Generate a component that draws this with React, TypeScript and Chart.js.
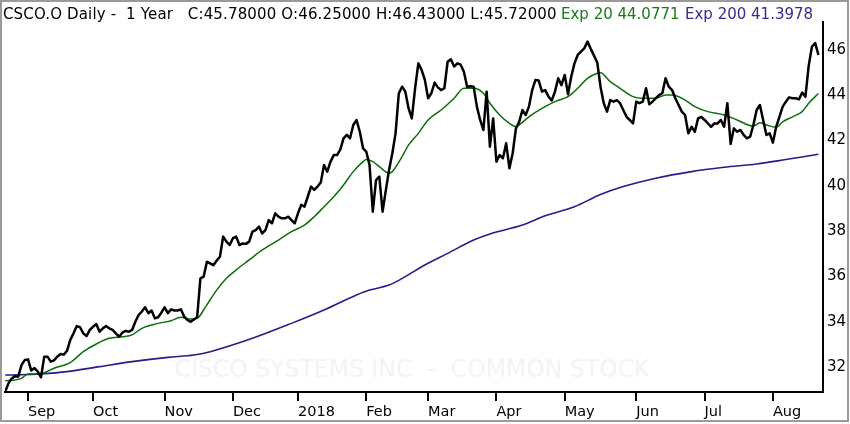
import React, { useEffect, useRef } from "react";
import { Chart, registerables } from "chart.js";

Chart.register(...registerables);

// ---- data (x = trading-day index, day 0 = 23 Aug 2017) ----
const monthDays = [7, 27, 49, 70, 90, 111, 130, 151, 172, 194, 215, 236];
const monthLabels = ["Sep", "Oct", "Nov", "Dec", "2018", "Feb", "Mar", "Apr", "May", "Jun", "Jul", "Aug"];
const yTicks = [32, 34, 36, 38, 40, 42, 44, 46];

const close = [
  30.92, 31.28, 31.5, 31.6, 31.58, 32.09, 32.31, 32.34, 31.85, 31.96,
  31.8, 31.55, 32.46, 32.46, 32.24, 32.3, 32.46, 32.58, 32.55, 32.72,
  33.2, 33.49, 33.81, 33.76, 33.49, 33.37, 33.64, 33.78, 33.9, 33.56,
  33.71, 33.81, 33.71, 33.64, 33.49, 33.34, 33.52, 33.6, 33.56, 33.64,
  34.0, 34.3, 34.45, 34.64, 34.38, 34.5, 34.15, 34.2, 34.4, 34.64,
  34.38, 34.55, 34.5, 34.5, 34.55, 34.23, 34.08, 34.0, 34.1, 34.2,
  35.92, 35.99, 36.65, 36.58, 36.5, 36.7, 36.87, 37.76, 37.54, 37.39,
  37.69, 37.76, 37.39, 37.46, 37.44, 37.54, 37.98, 38.05, 38.2, 37.9,
  38.05, 38.49, 38.35, 38.79, 38.64, 38.57, 38.57, 38.64, 38.49, 38.35,
  38.79, 39.16, 39.08, 39.52, 39.97, 39.82, 39.97, 40.15, 40.92, 40.63,
  41.07, 41.36, 41.36, 41.6, 42.1, 42.25, 42.1, 42.69, 42.91, 42.39,
  41.66, 41.51, 40.92, 38.86, 40.26, 40.41, 38.86, 39.8, 40.7, 41.44,
  42.32, 44.09, 44.38, 44.16, 43.42, 42.98, 44.31, 45.41, 45.12, 44.68,
  43.87, 44.09, 44.56, 44.35, 44.23, 44.31, 45.48, 45.59, 45.27, 45.41,
  45.35, 45.04, 44.38, 44.4, 44.38, 43.5, 42.91, 42.47, 44.16, 41.73,
  42.98, 41.07, 41.36, 41.22, 41.88, 40.78, 41.44, 42.54, 42.83, 43.35,
  43.13, 43.5, 44.23, 44.68, 44.65, 44.16, 44.23, 43.94, 43.77, 44.16,
  44.75, 44.45, 44.9, 44.05, 44.82, 45.41, 45.78, 45.93, 46.07, 46.37,
  46.05, 45.75, 45.45, 44.38, 43.65, 43.28, 43.79, 43.72, 43.79, 43.65,
  43.35, 43.05, 42.91, 42.76, 43.72, 43.65, 43.72, 44.31, 43.6, 43.72,
  43.87, 44.01, 44.09, 44.75, 44.38, 44.23, 43.87, 43.57, 43.28, 43.13,
  42.32, 42.61, 42.39, 42.98, 43.05, 42.91, 42.76, 42.61, 42.76, 42.76,
  42.91, 42.61, 43.65, 41.85, 42.54, 42.39, 42.47, 42.25, 42.1, 42.17,
  42.69, 43.35, 43.57, 42.91, 42.25, 42.32, 41.91, 42.61, 43.05, 43.5,
  43.72, 43.91, 43.87, 43.87, 43.82, 44.12, 43.94, 45.3, 46.15, 46.3,
  45.78,
];

const ema20Days = [
  0, 3, 5, 7, 9, 12, 15, 20, 24, 28, 32, 36, 39, 42, 47, 51, 54, 57, 59, 61,
  62, 65, 68, 71, 75, 79, 84, 88, 92, 95, 98, 101, 104, 107, 110, 111, 113, 115, 118, 119,
  122, 124, 127, 130, 134, 138, 141, 144, 147, 149, 152, 155, 157, 158, 161, 165, 169, 173, 176, 179,
  182, 183, 186, 189, 193, 196, 200, 203, 205, 209, 212, 216, 221, 225, 230, 232, 234, 237, 239, 242,
  245, 247, 250,
];
const ema20Values = [
  31.4, 31.43, 31.5, 31.7, 31.7, 31.75, 31.95, 32.2, 32.68, 33.02, 33.27, 33.34, 33.42, 33.71, 33.93, 34.05, 34.2, 34.12, 34.15, 34.52,
  34.75, 35.4, 35.92, 36.29, 36.73, 37.17, 37.61, 37.98, 38.27, 38.64, 39.08, 39.52, 40.04, 40.63, 41.07, 41.17, 41.07, 40.85, 40.56, 40.63,
  41.29, 41.81, 42.32, 42.91, 43.35, 43.87, 44.31, 44.31, 44.09, 43.65, 43.13, 42.76, 42.61, 42.69, 43.05, 43.42, 43.72, 43.94, 44.31, 44.75,
  44.97, 45.0, 44.6, 44.31, 43.94, 43.87, 43.87, 44.01, 44.01, 43.79, 43.5, 43.28, 43.13, 42.91, 42.64, 42.79, 42.69, 42.59, 42.83, 43.05,
  43.28, 43.65, 44.08,
];

const ema200Days = [
  0, 5, 11, 19, 29, 39, 50, 58, 63, 76, 88, 98, 108, 112, 118, 121, 129, 136, 144, 149,
  159, 166, 175, 183, 190, 200, 211, 221, 231, 239, 250,
];
const ema200Values = [
  31.65, 31.66, 31.7, 31.8, 32.02, 32.24, 32.43, 32.53, 32.68, 33.27, 33.93, 34.52, 35.18, 35.4, 35.62, 35.83, 36.51, 37.02, 37.61, 37.88,
  38.27, 38.68, 39.08, 39.62, 39.97, 40.34, 40.63, 40.82, 40.97, 41.14, 41.4,
];

const titleMain = "CSCO.O Daily -  1 Year   C:45.78000 O:46.25000 H:46.43000 L:45.72000";
const titleExp20 = "Exp 20 44.0771";
const titleExp200 = "Exp 200 41.3978";
const watermark = "CISCO SYSTEMS INC  -  COMMON STOCK";

const GREEN = "#0b6e0b";
const GREEN_TEXT = "#1a7a1a";
const PURPLE = "#2a1a8a";
const PURPLE_TEXT = "#3a2a8e";
const FONT = '"DejaVu Sans", Verdana, sans-serif';

const decor = {
  id: "decor",
  beforeDatasetsDraw(chart: any) {
    const ctx = chart.ctx;
    ctx.save();
    ctx.font = `24px ${FONT}`;
    ctx.fillStyle = "#f3f3f3";
    ctx.textAlign = "center";
    ctx.textBaseline = "middle";
    ctx.fillText(watermark, 412, 371, 475);
    ctx.restore();
  },
  afterDraw(chart: any) {
    const ctx = chart.ctx;
    ctx.save();
    ctx.font = `15px ${FONT}`;
    ctx.textAlign = "left";
    ctx.textBaseline = "alphabetic";
    ctx.fillStyle = "#000";
    try {
      (ctx as any).letterSpacing = "0.15px";
    } catch (e) {}
    ctx.fillText(titleMain, 3, 19);
    try {
      (ctx as any).letterSpacing = "0px";
    } catch (e) {}
    ctx.fillStyle = GREEN_TEXT;
    ctx.fillText(titleExp20, 561, 19);
    ctx.fillStyle = PURPLE_TEXT;
    ctx.fillText(titleExp200, 685, 19);
    ctx.strokeStyle = "#9a9a9a";
    ctx.lineWidth = 2;
    ctx.strokeRect(1, 1, 847, 420);
    ctx.restore();
  },
};

export default function App() {
  const ref = useRef<HTMLCanvasElement | null>(null);

  useEffect(() => {
    if (!ref.current) return;
    const priceData = close.map((v, i) => ({ x: i, y: v }));
    const e20 = ema20Days.map((d, i) => ({ x: d, y: ema20Values[i] }));
    const e200 = ema200Days.map((d, i) => ({ x: d, y: ema200Values[i] }));

    const chart = new Chart(ref.current, {
      type: "line",
      data: {
        datasets: [
          {
            data: priceData,
            borderColor: "#000",
            borderWidth: 2.5,
            pointRadius: 0,
            tension: 0,
            borderJoinStyle: "round",
          },
          {
            data: e20,
            borderColor: GREEN,
            borderWidth: 1.5,
            pointRadius: 0,
            cubicInterpolationMode: "monotone",
          },
          {
            data: e200,
            borderColor: PURPLE,
            borderWidth: 1.6,
            pointRadius: 0,
            cubicInterpolationMode: "monotone",
          },
        ],
      } as any,
      options: {
        responsive: false,
        animation: false,
        devicePixelRatio: 1,
        layout: { padding: { left: 5, top: 22, right: 0, bottom: 0 } },
        plugins: {
          legend: { display: false },
          tooltip: { enabled: false },
          title: { display: false },
        },
        scales: {
          x: {
            type: "linear",
            min: -0.07,
            max: 251.4,
            afterBuildTicks: (s: any) => {
              s.ticks = monthDays.map((v) => ({ value: v }));
            },
            afterFit: (s: any) => {
              s.height = 32;
            },
            ticks: {
              autoSkip: false,
              maxRotation: 0,
              align: "start",
              padding: 3,
              color: "#000",
              font: { family: FONT, size: 14.5 },
              callback: (v: any) => monthLabels[monthDays.indexOf(Number(v))] ?? "",
            },
            grid: {
              drawOnChartArea: false,
              drawTicks: true,
              tickLength: 9,
              color: "#000",
              lineWidth: 2,
            },
            border: { display: true, color: "#000", width: 2 },
          },
          y: {
            position: "right",
            min: 30.9,
            max: 47.236,
            afterBuildTicks: (s: any) => {
              s.ticks = yTicks.map((v) => ({ value: v }));
            },
            afterFit: (s: any) => {
              s.width = 27;
            },
            ticks: {
              padding: 4,
              color: "#000",
              font: { family: FONT, size: 15 },
              callback: (v: any) => String(v),
            },
            grid: { drawOnChartArea: false, drawTicks: false },
            border: { display: true, color: "#000", width: 2 },
          },
        },
      } as any,
      plugins: [decor as any],
    });
    return () => chart.destroy();
  }, []);

  return (
    <div style={{ position: "absolute", left: 0, top: 0, width: 850, height: 424, background: "#fff" }}>
      <canvas ref={ref} width={850} height={424} style={{ display: "block", width: 850, height: 424 }} />
    </div>
  );
}
